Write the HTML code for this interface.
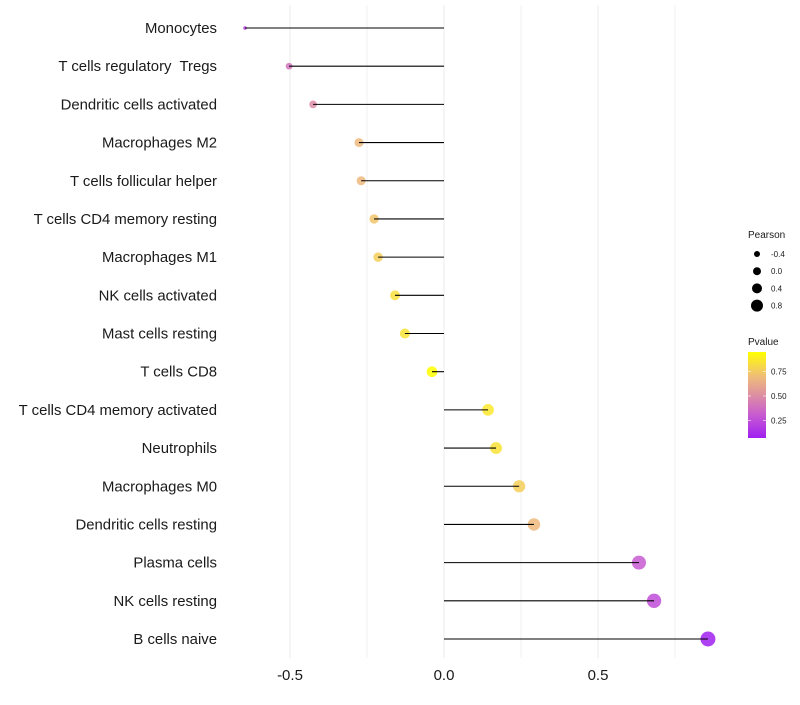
<!DOCTYPE html>
<html><head><meta charset="utf-8"><style>
body{margin:0;background:#fff;font-family:"Liberation Sans",sans-serif}
text{white-space:pre}
</style></head><body>
<svg id="c" width="800" height="700" xmlns="http://www.w3.org/2000/svg" style="font-family:'Liberation Sans',sans-serif"></svg>
<script>
const categories=["Monocytes","T cells regulatory  Tregs","Dendritic cells activated","Macrophages M2","T cells follicular helper","T cells CD4 memory resting","Macrophages M1","NK cells activated","Mast cells resting","T cells CD8","T cells CD4 memory activated","Neutrophils","Macrophages M0","Dendritic cells resting","Plasma cells","NK cells resting","B cells naive"];
const pearson=[-0.646,-0.503,-0.425,-0.276,-0.269,-0.227,-0.214,-0.159,-0.127,-0.039,0.143,0.169,0.244,0.292,0.633,0.682,0.857];
const pvalue=[0.18,0.4,0.5,0.7,0.7,0.75,0.78,0.85,0.86,0.97,0.88,0.86,0.78,0.7,0.3,0.25,0.06];
const xTicks=[-0.5,0,0.5];
const xTickLabels=["-0.5","0.0","0.5"];
const xMinor=[-0.25,0.25,0.75];
const sizeLegend=[-0.4,0,0.4,0.8];
const colorLegend=[0.25,0.5,0.75];

const NS="http://www.w3.org/2000/svg";
const svg=document.getElementById('c');
function el(t,a,p){const e=document.createElementNS(NS,t);for(const k in a)e.setAttribute(k,a[k]);(p||svg).appendChild(e);return e;}
const x=v=>444+v*308;
const y=i=>28+i*(611/16);
const r=v=>1.5+6*Math.sqrt(Math.max(0,(v+0.65)/1.51));
const rl=v=>4+2.5*v;
const stops=[[0.06,[160,32,240]],[0.3,[200,90,210]],[0.5,[220,140,165]],[0.72,[240,190,120]],[0.97,[255,255,0]]];
function col(p){if(p<=stops[0][0])return'rgb('+stops[0][1]+')';for(let i=1;i<stops.length;i++){if(p<=stops[i][0]){const a=stops[i-1],b=stops[i],t=(p-a[0])/(b[0]-a[0]);return'rgb('+a[1].map((c,j)=>Math.round(c+(b[1][j]-c)*t)).join(',')+')';}}return'rgb('+stops[stops.length-1][1]+')';}

xTicks.forEach(v=>{let g=el('line',{x1:x(v),x2:x(v),y1:5,y2:658,stroke:'#ebebeb','stroke-width':1});

});
xMinor.forEach(v=>{let g=el('line',{x1:x(v),x2:x(v),y1:5,y2:658,stroke:'#f2f2f2','stroke-width':1});

});
xTicks.forEach((v,i)=>{let t=el('text',{x:x(v),y:680,'text-anchor':'middle','font-size':15,fill:'#1a1a1a'});t.textContent=xTickLabels[i];

});

categories.forEach((c,i)=>{
 let t=el('text',{x:217,y:y(i)+5,'text-anchor':'end','font-size':14.9,fill:'#1a1a1a'});t.textContent=c;
 
 
 let p=el('circle',{cx:x(pearson[i]),cy:y(i),r:r(pearson[i]),fill:col(pvalue[i]),'fill-opacity':0.85});
 
 
 let l=el('line',{x1:x(0),x2:x(pearson[i]),y1:y(i),y2:y(i),stroke:'#000','stroke-width':1.1});
 
 
});

let lt=el('text',{x:748,y:238,'font-size':10,fill:'#1a1a1a'});lt.textContent='Pearson';


sizeLegend.forEach((v,i)=>{const cy=254+i*17.2;
 let c=el('circle',{cx:757,cy:cy,r:rl(v),fill:'#000'});
 
 
 let t=el('text',{x:771,y:cy+3,'font-size':8,fill:'#1a1a1a'});t.textContent=v===0?'0.0':String(v);
 
 });

let ct=el('text',{x:748,y:345,'font-size':10,fill:'#1a1a1a'});ct.textContent='Pvalue';


const defs=el('defs',{});const gr=el('linearGradient',{id:'g',x1:0,y1:1,x2:0,y2:0},defs);
for(let k=0;k<=10;k++){const p=0.06+k*0.091;el('stop',{offset:k/10,'stop-color':col(p)},gr);}
let bar=el('rect',{x:748,y:352,width:18,height:86,fill:'url(#g)'});


const cy=p=>347+(1-p)*98;
colorLegend.forEach(v=>{
 el('line',{x1:748,x2:751,y1:cy(v),y2:cy(v),stroke:'#fff','stroke-width':0.6});
 el('line',{x1:763,x2:766,y1:cy(v),y2:cy(v),stroke:'#fff','stroke-width':0.6});
 let t=el('text',{x:771,y:cy(v)+3,'font-size':8,fill:'#1a1a1a'});t.textContent=v.toFixed(2);
 
 });
</script>
</body></html>
